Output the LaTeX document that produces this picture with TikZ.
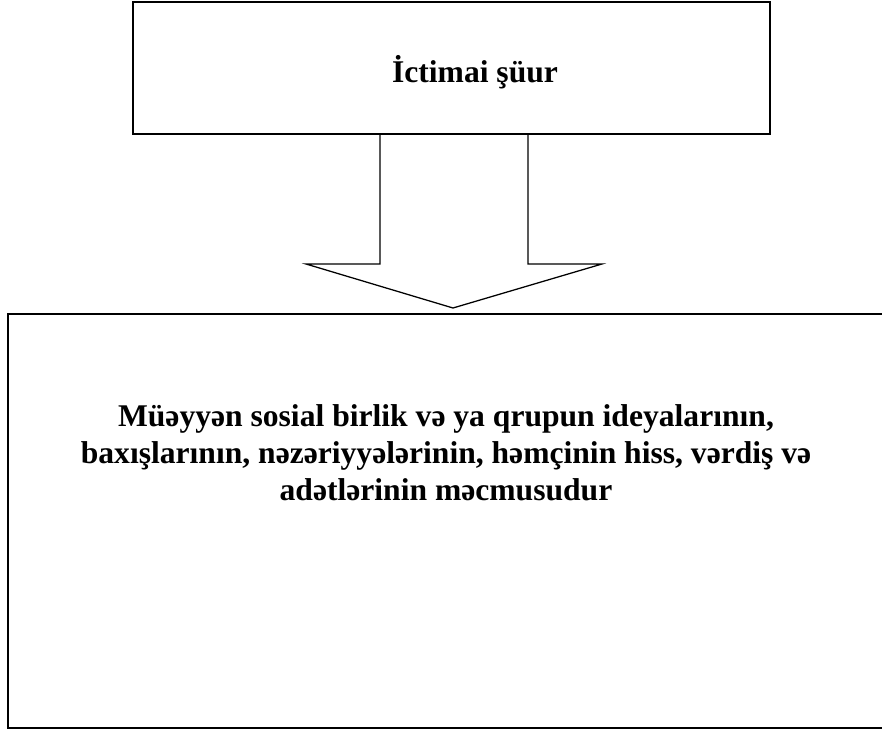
\documentclass[tikz,border=0pt]{standalone}
\usepackage{fontspec}
\setmainfont{Liberation Serif}
\begin{document}
\begin{tikzpicture}[x=0.75pt,y=-0.75pt,
  box/.style={draw, line width=1.35pt, rectangle, inner sep=0pt},
  boxtext/.style={font=\bfseries\fontsize{23.7}{27.8}\selectfont, align=center, inner sep=0pt},
  blockarrow/.style={draw, line width=0.95pt, line join=miter}]
  \useasboundingbox (0,0) rectangle (882,730);
  % Top box
  \node[box, minimum width=477.75pt, minimum height=99pt] (ust) at (451.5,68) {};
  \node[boxtext] (usttext) at (475,72) {İctimai şüur};
  % Bottom box
  \node[box, minimum width=661.5pt, minimum height=310.5pt] (alt) at (449,521) {};
  \node[boxtext] (alttext) at (446,453)
    {Müəyyən sosial birlik və ya qrupun ideyalarının,\\
     baxışlarının, nəzəriyyələrinin, həmçinin hiss, vərdiş və\\
     adətlərinin məcmusudur};
  % Block arrow
  \coordinate (tip) at (453,308);
  \draw[blockarrow] (380,134) -- (380,264) -- (306,264) -- (tip)
    -- (602,264) -- (528,264) -- (528,134);
\end{tikzpicture}
\end{document}
